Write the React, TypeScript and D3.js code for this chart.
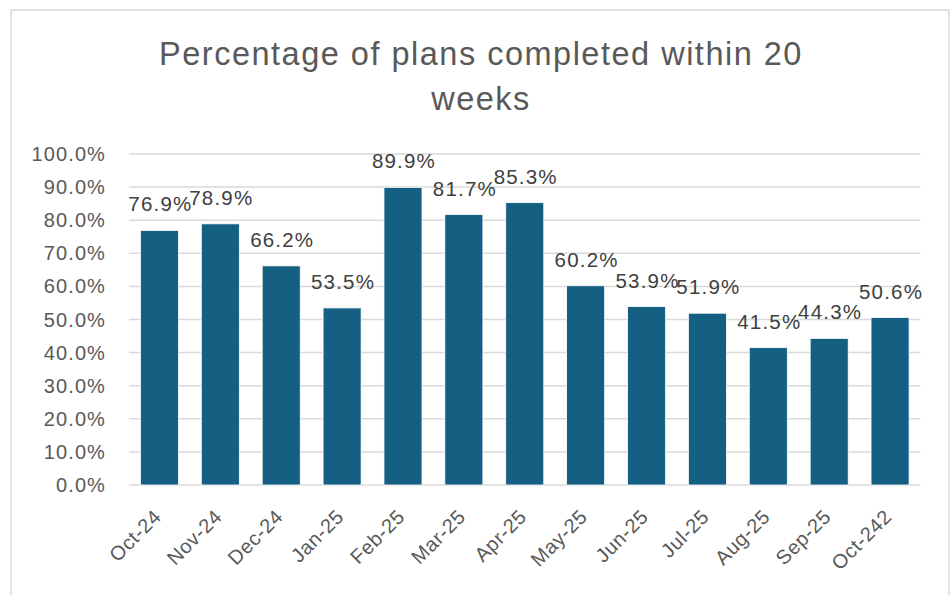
import * as d3 from "d3";
import React from "react";

const months = [
  "Oct-24", "Nov-24", "Dec-24", "Jan-25", "Feb-25", "Mar-25", "Apr-25",
  "May-25", "Jun-25", "Jul-25", "Aug-25", "Sep-25", "Oct-242",
];
const pctValues = [76.9, 78.9, 66.2, 53.5, 89.9, 81.7, 85.3, 60.2, 53.9, 51.9, 41.5, 44.3, 50.6];
const yTicks = [0, 10, 20, 30, 40, 50, 60, 70, 80, 90, 100];
const titleLines = ["Percentage of plans completed within 20", "weeks"];

const W = 952;
const H = 595;
const font = "'Liberation Sans', Arial, sans-serif";

export default function App() {
  const left = 129, right = 920.5, top = 154, bottom = 485;

  const x = d3.scaleBand<string>()
    .domain(months)
    .range([left, right])
    .paddingInner(0.375)
    .paddingOuter(0.1875);
  const y = d3.scaleLinear().domain([0, 100]).range([bottom, top]);

  const fmt = (v: number) => d3.format(".1f")(v) + "%";

  return (
    <svg width={W} height={H} style={{ position: "absolute", left: 0, top: 0, background: "#fff" }}>
      {/* chart area frame */}
      <rect x={11} y={10} width={938} height={600} fill="#fff" stroke="#d9d9d9" strokeWidth={1.5} />

      {/* title */}
      {titleLines.map((t, i) => (
        <text key={i} x={481} y={65 + i * 45} textAnchor="middle" fontFamily={font}
          fontSize={32.5} letterSpacing={1.5} fill="#595959">{t}</text>
      ))}

      {/* gridlines + y labels */}
      {yTicks.map((t) => (
        <g key={t}>
          <line x1={left} x2={right} y1={y(t)} y2={y(t)} stroke="#d9d9d9" strokeWidth={1.5} />
          <text x={106} y={y(t) + 7} textAnchor="end" fontFamily={font} fontSize={20}
            letterSpacing={1.1} fill="#595959">{fmt(t)}</text>
        </g>
      ))}

      {/* bars */}
      {months.map((m, i) => (
        <rect key={m} x={x(m)} y={y(pctValues[i])} width={x.bandwidth()}
          height={y(0) - y(pctValues[i])} fill="#156082" stroke="#fff" strokeWidth={0.8} />
      ))}

      {/* data labels */}
      {months.map((m, i) => (
        <text key={m} x={(x(m) as number) + x.bandwidth() / 2 + 1} y={y(pctValues[i]) - 19}
          textAnchor="middle" fontFamily={font} fontSize={20.5} letterSpacing={1.2}
          fill="#404040">{fmt(pctValues[i])}</text>
      ))}

      {/* category labels */}
      {months.map((m) => {
        const cx = (x(m) as number) + x.bandwidth() / 2 + 3;
        return (
          <text key={m} transform={`translate(${cx},518) rotate(-45)`} textAnchor="end"
            fontFamily={font} fontSize={20} letterSpacing={0.6} fill="#595959">{m}</text>
        );
      })}
    </svg>
  );
}
